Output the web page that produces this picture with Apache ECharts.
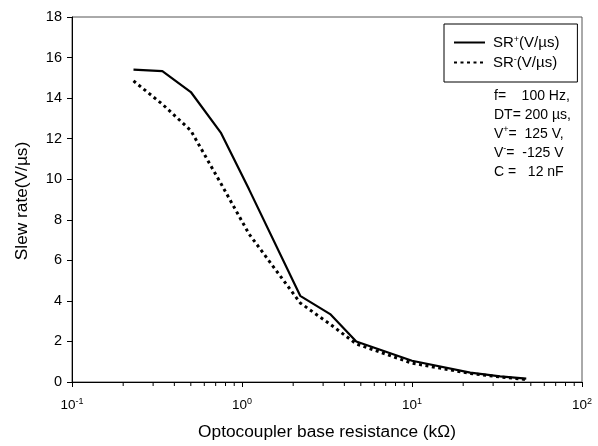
<!DOCTYPE html>
<html>
<head>
<meta charset="utf-8">
<script src="https://cdn.jsdelivr.net/npm/echarts@6/dist/echarts.min.js"></script>
<style>
html,body{margin:0;padding:0;background:#fff;}
#c{width:598px;height:446px;}
</style>
</head>
<body>
<div id="c"></div>
<script>
// Data
var resistance = [0.23, 0.34, 0.5, 0.75, 1.1, 2.2, 3.3, 4.7, 10, 22, 33, 47];   // kΩ
var srPlus     = [15.4, 15.33, 14.3, 12.3, 9.5, 4.25, 3.35, 2.0, 1.05, 0.46, 0.28, 0.17];
var srMinus    = [14.85, 13.7, 12.4, 9.8, 7.3, 3.9, 2.85, 1.88, 0.93, 0.42, 0.25, 0.12];
var minorTickValues = [0.2,0.3,0.4,0.5,0.6,0.7,0.8,0.9, 2,3,4,5,6,7,8,9, 20,30,40,50,60,70,80,90];
var yTicks = {min: 0, max: 18, interval: 2};
var xRange = {min: 0.1, max: 100};

var FONT = 'Liberation Sans, Arial, sans-serif';

function pairs(xs, ys){ return xs.map(function(x,i){ return [x, ys[i]]; }); }

var chart = echarts.init(document.getElementById('c'), null, {renderer:'canvas'});
chart.setOption({
  animation: false,
  backgroundColor: '#fff',
  textStyle: {fontFamily: FONT, color: '#000'},
  grid: {left: 72, right: 16, top: 17, bottom: 63, show: true, borderColor: '#555', borderWidth: 1, backgroundColor: 'transparent'},
  legend: {
    orient: 'vertical',
    left: 444, top: 24,
    padding: [11, 18, 12, 9],
    borderColor: '#000', borderWidth: 1,
    itemWidth: 31, itemHeight: 14, itemGap: 5,
    itemStyle: {opacity: 0},
    data: ['SR+', 'SR-'],
    formatter: function(n){
      return n === 'SR+' ? '{a|SR}{s|+}{a|(V/µs)}' : '{a|SR}{s|-}{a|(V/µs)}';
    },
    textStyle: {
      fontFamily: FONT, color: '#000', padding: [0,0,0,3],
      rich: {
        a: {fontSize: 15, fontFamily: FONT, color: '#000', lineHeight: 15},
        s: {fontSize: 9, fontFamily: FONT, color: '#000', verticalAlign: 'top', lineHeight: 9}
      }
    }
  },
  xAxis: {
    type: 'log', logBase: 10, min: xRange.min, max: xRange.max,
    name: 'Optocoupler base resistance (kΩ)', nameLocation: 'middle', nameGap: 42,
    nameTextStyle: {fontSize: 17.3, fontFamily: FONT, color: '#000'},
    axisLine: {lineStyle: {color: '#000', width: 1}},
    axisTick: {show: true, inside: false, length: 5, lineStyle: {color: '#000'}},
    splitLine: {show: false},
    minorTick: {show: false},
    axisLabel: {
      margin: 15, color: '#000',
      formatter: function(v){ return '{b|10}{s|' + Math.round(Math.log10(v)) + '}'; },
      rich: {
        b: {fontSize: 13.5, fontFamily: FONT, color: '#000', lineHeight: 16},
        s: {fontSize: 9, fontFamily: FONT, color: '#000', verticalAlign: 'top', lineHeight: 10}
      }
    }
  },
  yAxis: {
    type: 'value', min: yTicks.min, max: yTicks.max, interval: yTicks.interval,
    axisLine: {show: true, lineStyle: {color: '#000', width: 1}},
    axisTick: {show: true, inside: false, length: 5, lineStyle: {color: '#000'}},
    splitLine: {show: false},
    axisLabel: {margin: 10, fontSize: 14.5, fontFamily: FONT, color: '#000'}
  },
  graphic: [
    {
      type: 'text', x: 22, y: 201, rotation: Math.PI/2,
      style: {text: 'Slew rate(V/µs)', font: '17.3px ' + FONT, fill: '#000', textAlign: 'center', textVerticalAlign: 'middle'}
    },
    {
      type: 'text', x: 494, y: 87,
      style: {
        text: '{a|f=    100 Hz,}\n{a|DT= 200 µs,}\n{a|V}{s|+}{a|=  125 V,}\n{a|V}{s|-}{a|=  -125 V}\n{a|C =   12 nF}',
        rich: {
          a: {fontSize: 14, fontFamily: FONT, fill: '#000', lineHeight: 19},
          s: {fontSize: 9, fontFamily: FONT, fill: '#000', verticalAlign: 'top', lineHeight: 13}
        }
      }
    }
  ],
  series: [
    {
      name: 'SR+', type: 'line', data: pairs(resistance, srPlus),
      symbol: 'none', lineStyle: {color: '#000', width: 2.2}, itemStyle: {color: '#000'}
    },
    {
      name: 'SR-', type: 'line', data: pairs(resistance, srMinus),
      symbol: 'none', lineStyle: {color: '#000', width: 3, type: [3, 3.5], cap: 'butt'}, itemStyle: {color: '#000'}
    },
    {
      name: 'minor', type: 'custom', silent: true, clip: false,
      data: minorTickValues.map(function(v){ return [v, 0]; }),
      renderItem: function(params, api){
        var p = api.coord([api.value(0), 0]);
        return {type: 'line', shape: {x1: p[0], y1: p[1], x2: p[0], y2: p[1] + 4}, style: {stroke: '#000', lineWidth: 1}};
      }
    }
  ]
});
</script>
</body>
</html>
